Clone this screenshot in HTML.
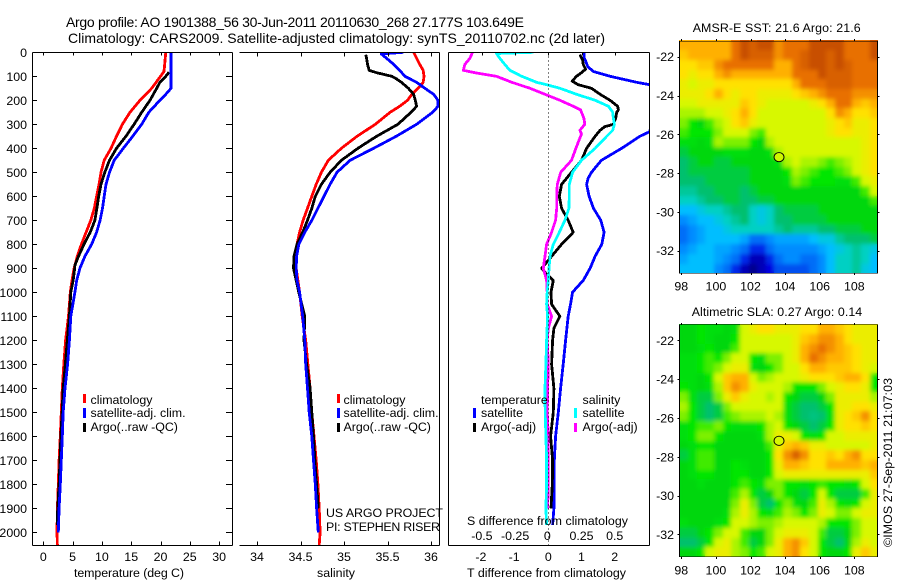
<!DOCTYPE html>
<html>
<head>
<meta charset="utf-8">
<title>Argo profile</title>
<style>
html,body{margin:0;padding:0;background:#fff;}
#chart{display:block;width:900px;height:580px;}
text{font-family:"Liberation Sans",Arial,sans-serif;font-size:12.4px;fill:#000;}
.title{font-size:14px;}
.crisp{shape-rendering:crispEdges;}
polyline{fill:none;stroke-linejoin:round;stroke-linecap:butt;shape-rendering:crispEdges;}
</style>
</head>
<body>
<svg id="chart" xmlns="http://www.w3.org/2000/svg" width="900" height="580" viewBox="0 0 900 580">
  <defs>
    <clipPath id="clip-temp"><rect x="32" y="52" width="201" height="494"/></clipPath>
    <clipPath id="clip-sal"><rect x="239" y="52" width="201" height="494"/></clipPath>
    <clipPath id="clip-diff"><rect x="448" y="52" width="201" height="494"/></clipPath>
    <clipPath id="clip-map-sst"><rect x="679.5" y="41" width="198" height="232"/></clipPath>
    <clipPath id="clip-map-sla"><rect x="679.5" y="325" width="198" height="232"/></clipPath>
    <filter id="map-smooth" x="-5%" y="-5%" width="110%" height="110%"><feGaussianBlur stdDeviation="2"/></filter>
  </defs>
  <rect x="0" y="0" width="900" height="580" fill="#fff"/>

  <g id="map-sst"></g>
  <g id="map-sla"></g>
  <g id="plots"></g>
  <g id="axes"></g>

  <text class="title" x="66" y="27" textLength="458" lengthAdjust="spacing">Argo profile: AO 1901388_56 30-Jun-2011 20110630_268 27.177S 103.649E</text>
  <text class="title" x="68" y="43" textLength="537" lengthAdjust="spacing">Climatology: CARS2009. Satellite-adjusted climatology: synTS_20110702.nc (2d later)</text>

  <text x="74" y="577" textLength="110" lengthAdjust="spacing">temperature (deg C)</text>
  <text x="317" y="577" textLength="38" lengthAdjust="spacing">salinity</text>
  <text x="467" y="577" textLength="159" lengthAdjust="spacing">T difference from climatology</text>
  <text x="467" y="525" textLength="161" lengthAdjust="spacing">S difference from climatology</text>

  <g>
    <rect class="crisp" x="83" y="394" width="3" height="9" fill="#f00"/>
    <rect class="crisp" x="83" y="408" width="3" height="10" fill="#00f"/>
    <rect class="crisp" x="83" y="423" width="3" height="9" fill="#000"/>
    <text x="90.5" y="404">climatology</text>
    <text x="90.5" y="417">satellite-adj. clim.</text>
    <text x="90.5" y="431">Argo(..raw -QC)</text>
  </g>
  <g>
    <rect class="crisp" x="337" y="394" width="3" height="9" fill="#f00"/>
    <rect class="crisp" x="337" y="408" width="3" height="10" fill="#00f"/>
    <rect class="crisp" x="337" y="423" width="3" height="9" fill="#000"/>
    <text x="343.5" y="404">climatology</text>
    <text x="343.5" y="417">satellite-adj. clim.</text>
    <text x="343.5" y="431">Argo(..raw -QC)</text>
  </g>
  <g>
    <text x="481" y="404">temperature</text>
    <rect class="crisp" x="473" y="408" width="3" height="10" fill="#00f"/>
    <rect class="crisp" x="473" y="423" width="3" height="9" fill="#000"/>
    <text x="481" y="417">satellite</text>
    <text x="481" y="431">Argo(-adj)</text>
    <text x="582.5" y="404">salinity</text>
    <rect class="crisp" x="574" y="408" width="3" height="10" fill="#0ff"/>
    <rect class="crisp" x="574" y="423" width="3" height="9" fill="#f0f"/>
    <text x="582.5" y="417">satellite</text>
    <text x="582.5" y="431">Argo(-adj)</text>
  </g>

  <text x="326" y="517" textLength="117" lengthAdjust="spacing">US ARGO PROJECT</text>
  <text x="326" y="531" textLength="114" lengthAdjust="spacing">PI: STEPHEN RISER</text>

  <text x="692.7" y="32" textLength="168" lengthAdjust="spacing">AMSR-E SST: 21.6 Argo: 21.6</text>
  <text x="691.7" y="316" textLength="170.5" lengthAdjust="spacing">Altimetric SLA: 0.27 Argo: 0.14</text>
  <text transform="translate(892,547) rotate(-90)" textLength="169" lengthAdjust="spacing">©IMOS 27-Sep-2011 21:07:03</text>
</svg>

<script>
// ---------- Temperature profiles (deg C) ----------
const climTempDepths = [0,80,100,150,200,250,300,350,400,450,500,550,600,650,700,750,800,850,900,950,1000,1100,1200,1300,1400,1500,1600,1700,1800,1900,2000,2055];
const climTemp = [20.9,20.6,20.0,18.5,16.5,14.8,13.5,12.5,11.55,10.4,9.85,9.5,9.1,8.7,8.1,7.3,6.5,5.8,5.25,4.9,4.6,4.3,3.8,3.5,3.25,3.07,2.9,2.7,2.56,2.4,2.33,2.4];
const argoTempDepths = [83,100,125,150,200,250,300,350,400,450,500,550,600,650,700,750,800,850,890,900,950,1000,1100,1200,1300,1400,1500,1600,1700,1800,1900,1970];
const argoTemp = [21.45,20.9,19.9,19.35,18.2,16.8,15.5,14.1,12.5,11.3,10.5,9.85,9.45,9.15,8.8,8.0,6.95,6.0,5.35,5.35,5.1,4.7,4.45,4.1,3.75,3.4,3.2,3.0,2.85,2.7,2.45,2.4];
const satTempDepths = [0,150,175,200,250,300,350,400,450,500,550,600,650,700,750,800,850,900,950,1000,1100,1200,1300,1400,1500,1600,1700,1800,1900,2000];
const satTemp = [21.8,21.8,20.9,19.9,18.0,16.8,15.25,13.65,12.1,11.3,10.7,10.4,10.1,9.7,9.1,8.25,7.1,6.25,5.7,5.4,4.7,4.45,4.15,3.7,3.4,3.25,3.07,2.9,2.7,2.56];

// ---------- Salinity profiles ----------
const climSalDepths = [0,25,50,75,100,125,150,175,200,225,250,300,350,400,450,500,550,600,650,700,750,800,850,900,950,1000,1100,1200,1300,1400,1500,1600,1700,1800,1900,2000,2055];
const climSal = [35.8,35.835,35.87,35.91,35.92,35.91,35.85,35.78,35.73,35.64,35.53,35.36,35.15,34.97,34.82,34.74,34.68,34.63,34.58,34.53,34.49,34.46,34.45,34.45,34.47,34.49,34.52,34.56,34.585,34.61,34.63,34.655,34.68,34.7,34.715,34.725,34.715];
const argoSalDepths = [10,25,50,75,85,100,110,125,150,175,200,225,250,300,350,400,450,500,550,600,650,700,750,800,850,900,950,1000,1100,1200,1300,1400,1500,1600,1700,1800,1900];
const argoSal = [35.25,35.26,35.27,35.29,35.375,35.55,35.6,35.66,35.74,35.8,35.82,35.835,35.77,35.62,35.375,35.16,34.97,34.84,34.74,34.67,34.63,34.58,34.525,34.46,34.425,34.42,34.45,34.48,34.55,34.54,34.57,34.61,34.63,34.65,34.665,34.685,34.705];
const satSalDepths = [0,7,25,50,75,100,125,150,175,200,225,250,300,350,400,450,500,550,600,650,700,750,800,850,900,950,1000,1100,1200,1300,1400,1500,1600,1700,1800,1900,2000];
const satSal = [35.68,35.43,35.49,35.57,35.64,35.7,35.835,35.93,36.03,36.08,36.08,36.02,35.835,35.6,35.34,35.07,34.92,34.84,34.77,34.7,34.63,34.55,34.48,34.455,34.45,34.46,34.49,34.525,34.55,34.56,34.58,34.6,34.63,34.65,34.67,34.685,34.705];

// ---------- Temperature differences from climatology ----------
const satTDiffDepths = [0,25,40,60,80,100,125,135,150,200,250,331,350,400,450,500,525,550,600,650,700,750,800,850,900,950,1000,1050,1100,1200,1300,1400,1500,1600,1700,1800,1900,1970];
const satTDiff = [1.085,1.085,1.135,1.19,1.36,1.86,2.66,3.05,3.3,3.4,3.2,3.05,2.76,2.21,1.6,1.3,1.2,1.155,1.23,1.36,1.58,1.68,1.61,1.41,1.26,1.055,0.73,0.67,0.6,0.52,0.45,0.37,0.3,0.22,0.18,0.17,0.17,0.13];
const argoTDiffDepths = [10,30,50,70,85,100,120,135,150,175,200,225,240,250,275,300,310,325,350,400,450,500,550,600,650,700,750,800,850,900,925,950,1000,1050,1100,1150,1200,1300,1400,1500,1600,1700,1800,1900];
const argoTDiff = [0.95,1.03,1.05,1.125,1.0,0.85,0.72,0.9,1.3,1.56,1.86,2.09,2.11,2.06,2.03,1.96,1.7,1.56,1.41,1.155,1.0,0.7,0.4,0.33,0.4,0.6,0.75,0.4,0.1,-0.2,-0.05,0.15,0.08,0.1,0.35,0.17,0.13,0.1,0.17,0.15,0.07,0.13,0.12,0.08];

// ---------- Salinity differences from climatology ----------
const satSDiffDepths = [0,5,25,50,75,100,125,135,150,175,200,225,250,275,300,325,350,400,450,500,550,600,650,700,750,800,850,900,950,1000,1050,1100,1200,1300,1400,1500,1600,1700,1800,1900,1970];
const satSDiff = [-0.113,-0.39,-0.365,-0.328,-0.29,-0.2,-0.088,-0.013,0.088,0.213,0.353,0.453,0.485,0.49,0.498,0.485,0.44,0.353,0.25,0.183,0.158,0.158,0.155,0.125,0.083,0.038,0.013,0.005,0,-0.008,-0.013,-0.005,-0.013,-0.018,-0.025,-0.023,-0.018,-0.013,-0.013,-0.018,-0.013];
const argoSDiffDepths = [0,25,50,75,85,100,125,150,175,200,225,240,275,300,325,340,400,450,500,550,600,650,700,750,800,850,900,950,1000,1050,1100,1150,1200,1300,1400,1500,1600,1700,1800,1900];
const argoSDiff = [-0.57,-0.59,-0.628,-0.64,-0.553,-0.39,-0.275,-0.138,-0.025,0.088,0.188,0.243,0.268,0.275,0.238,0.25,0.208,0.175,0.093,0.068,0.063,0.063,0.055,0.025,-0.013,-0.025,-0.038,-0.013,-0.008,-0.008,0.025,0,-0.008,0,-0.005,-0.008,0,0,0,-0.005];

// ---------- Tick labels ----------
const depthTicks = [0,100,200,300,400,500,600,700,800,900,1000,1100,1200,1300,1400,1500,1600,1700,1800,1900,2000];
const tempTicks = [0,5,10,15,20,25,30];
const salTicks = [34,34.5,35,35.5,36];
const tDiffTicks = [-2,-1,0,1,2];
const sDiffTicks = [-0.5,-0.25,0,0.25,0.5];
const lonTicks = [98,100,102,104,106,108];
const latTicks = [22,24,26,28,30,32];

// ---------- Map grids: 0.5 degree cells, colour-scale levels, north to south ----------
const sstLevels = [
[12,12,12,12,12,12,13,14,13.5,14,14,12.5,13,13,13,14,14,14,14,13,13,13,14],
[11.5,12,12,12,12,12,13,14,13.5,13.5,13.5,12.5,13,13,13.5,14,14,13.5,14,13,13,13,14],
[11,11,11.5,11.5,12.5,13,13,13,13,13,13,12,12,13,13.5,14,14,13.5,14,13.5,13,13,13],
[11,10.5,11,11,12,12.5,12,12,12,12,12,12,12,13,13,13,14,13.5,13.5,13.5,13,13,13],
[10.5,10,10.5,10.5,11,11,11,11,11,11,11,11,11,12,13,13,13,13.5,13.5,13.5,13,13,13],
[10.5,10.5,10.5,11,12,11,10.5,11,11,10.5,10.5,10.5,10.5,11,11.5,12,12.5,13,13,13,12.5,12.5,12.5],
[10,10,10.5,10.5,10.5,10.5,10.5,11.5,11,10.5,10,10,10,10,10,10.5,11,12,13,13,12,11.5,12],
[9.5,9.5,9.5,10,10,10.5,11,12,11,10,10,10,10,10,10,10,10,11,12.5,12,11,11,11.5],
[9,8,7,8.5,9.5,10,11,11.5,10.5,10,10,10,10,10,10,10,10,10.5,11,11.5,10.5,10.5,11],
[8.5,8,8,8,9,10,10,10,9,8.5,10,10,10,10,10,10,10,10.5,11,11,10.5,10.5,11],
[7.5,7.5,7,7.5,9.5,9,9,9,8,7,9.5,10,10,10,10,10,10,10,10,10,10,10.5,11],
[6.5,7,7,7,7,7.5,7.5,7.5,7,7,7.5,9.5,10,10,10,10,10,10,10,10,10,10.5,11],
[6,6.5,7,7,6.5,6.5,7,7,7,7,7,7.5,9.5,10,9.5,9.5,9,8.5,9,9.5,10,10.5,11],
[6,6.5,6.5,6.5,6.5,6.5,6.5,6.5,7,7,7,7,8,9.5,9,8.5,8,8,8.5,9,10,10.5,11],
[6,6,6,6.5,6.5,6.5,6.5,6.5,7,7,7,7,7.5,9,8.5,8,8,8,7.5,7.5,8.5,10,10.5],
[5.5,5.5,6,6,6.5,6.5,6.5,6,6.5,7,7,7,7,7,7,7,7,7,7,7,7,8.5,10],
[5,5,5.5,6,6,6.5,6.5,6,6,6.5,6.5,7,7,7,7,7,7,7,7,7,7,7,8.5],
[4,4,4.5,5,5,5.5,6,6,5,4.5,5,6,6.5,6.5,6.5,6.5,7,7,7,7,7,7,7],
[3,3.5,4,4,4.5,5,5.5,6,5,4.5,5,6,6,6.5,6.5,6.5,6.5,7,7,7,7,7,7],
[2.5,3,3.5,4,4,4.5,5,5,5,5,5,5.5,6,5.5,5.5,5.5,6,6,6.5,6.5,6.5,7,7],
[2.5,3,3.5,4,4,4,4,3.5,2.5,2.5,3,3.5,3.5,3.5,3.5,4,4.5,4.5,5.5,6,6,6,6.5],
[3,3.5,4,4,3.5,3.5,3,2.5,1.5,1.5,2.5,3,3,3,3,3,3.5,4,4.5,5,5.5,5,4.5],
[3.5,4,4,4,3.5,3,2.5,1.5,0.5,0.5,1.5,2.5,3,3,2.5,2.5,3,4,5,5,5.5,5,4],
[4,4,4,4,3,2.5,1.5,0.5,0,0.5,1,2,2,2,2,2.5,3,4,5,5,5.5,4.5,4]
];
const slaLevels = [
[7,7,8,7.5,7.5,7,7.5,10,10.5,11,11,10.5,10.5,10.5,11,11,12,12,11.5,11,10.5,10.5,10.5],
[7,7,8,7.5,7,7,8,10,10,10,10,10,10,10.5,11.5,12,12.5,12.5,12,11,10.5,10.5,10.5],
[7,7,7.5,8,7,7,8.5,10,10,10,10,10,10,10.5,12,12.5,13,12.5,12,11.5,11,10.5,10.5],
[7.5,7.5,8,8.5,8,9,10,10,8,7.5,9,9,10,10.5,12,13,12.5,12,12,11.5,11,10.5,10.5],
[7.5,7.5,8,8.5,9,10,10.5,10.5,7.5,7,8,9,10,10,11,12,12,11.5,11.5,11.5,11,10.5,10],
[7.5,7.5,7,8,10,11.5,12,12,10,9,9.5,10,10,10,10.5,11,11,11,11.5,12,12,11,8],
[8,7.5,7,7.5,9.5,11.5,12.5,12,10.5,10,10,10,9.5,8,8,8,9,10,10.5,11,11,10.5,8],
[9,7.5,6.5,6.5,9,10.5,11.5,10.5,10,10,9.5,10,8,7,6.5,6.5,7,9,10.5,10.5,10.5,10.5,9.5],
[9.5,8,6.5,6,6.5,9,10,10,10,10,10,10,7.5,6.5,6,6,6.5,8,10.5,10.5,11,11,10.5],
[9,8,6.5,6,6.5,8.5,9,9.5,9.5,9.5,10,9.5,7.5,6.5,6,5.8,6,7.5,10.5,11,11.5,12.5,11],
[7.5,8,8.5,8.5,9,8,7.5,7.5,7.5,8,9.5,10,8,7,6.5,6,6.5,8,10.5,11,11,11.5,11],
[7.5,8,9,9,8,7,7,7,7,7.5,9.5,10.5,10.5,10,8,7.5,8,10,10,10.5,10.5,10.5,10.5],
[7,7.5,8,8,7,7,7,7,7,7,8.5,10.5,11.5,12,11.5,10.5,10.5,10,10,10,10,10,10.5],
[6.5,7.5,8.5,8.5,7,7,7,7,7,7,8,11,12.5,13.5,12.5,11,11,11.5,11,12,12.5,11,11],
[7,7.5,8.5,8.5,7,7,8,7.5,7,7,8,10.5,12,12,11.5,11,11,12,12,12,12,11.5,12],
[7,7.5,8,8,7,7,8,8,7,7,8,10,10.5,10.5,10.5,10.5,10.5,10.5,10.5,10.5,10.5,10.5,11.5],
[7,7,7.5,7,7,7,8,8.5,8,7.5,9,9,8,8,7.5,8,8.5,8,8,7.5,8,10,11],
[7,7,7,7,7,7,8.5,9.5,8,6.5,7,9,8,7,6.5,8,10,8,6.5,6.5,6.5,8.5,10.5],
[7,7,7,7,7,7,9,10.5,9,6.5,6,8,9,7.5,7,8.5,10.5,9.5,8,7.5,8,10,10.5],
[7,7,7,7,7,7.5,9.5,10.5,9.5,8,7.5,8.5,9.5,9,8,9,10.5,10,9,9,10,10.5,10.5],
[7.5,7,7,7,7.5,8,10,10,9.5,9,9,9.5,10,10,10,10,9.5,8,8,8,9,10,10],
[6.5,6.5,7,8,9,10,10,8.5,7,7,9,10,10.5,10.5,10.5,10,8.5,6.5,6.5,7,9,10,10],
[6,6,6.5,8,10,10.5,9.5,8.5,6.5,7,9,10.5,12,12.5,11.5,10,8,6.5,6,7,9.5,10.5,10],
[7,7,8,10,10.5,10.5,9.5,9,8,8.5,10,10.5,12,12.5,11,10,8,7,7,8,10.5,11.5,10.5]
];
const sstFloatLevel = [9.9];
const slaFloatLevel = [10];
const floatLon = [103.649];
const floatLat = [27.177];

// ---------- Colour scale (level 0..14) ----------
const levelColors = [[0,0,140],[0,0,225],[0,80,240],[0,140,255],[0,190,255],[0,208,195],[0,192,110],[0,215,15],[0,230,0],[125,240,0],[215,248,0],[255,225,0],[255,176,0],[232,112,0],[200,80,0]];

// ---------- Axis functions ----------
const NS = 'http://www.w3.org/2000/svg';
const depthY = d => 52.3 + 0.24 * d;
const tempX = t => 43.3 + 5.86 * t;
const salX = s => 257 + 87 * (s - 34);
const tDiffX = t => 548.3 + 33.2 * t;
const sDiffX = s => 548.3 + 132.8 * s;
const lonX = lon => 681.3 + 17.3 * (lon - 98);
const latY = (lat, top) => top + 16 + 19.4 * (lat - 22);

function make(tag, attrs, parent) {
  const el = document.createElementNS(NS, tag);
  for (const k in attrs) el.setAttribute(k, attrs[k]);
  parent.appendChild(el);
  return el;
}
function levelColor(v) {
  const i = Math.max(0, Math.min(levelColors.length - 2, Math.floor(v)));
  const f = Math.max(0, Math.min(1, v - i));
  const a = levelColors[i], b = levelColors[i + 1];
  return 'rgb(' + [0, 1, 2].map(c => Math.round(a[c] + (b[c] - a[c]) * f)).join(',') + ')';
}

// ---------- Profile series ----------
const plots = document.getElementById('plots');
function series(depths, values, xFn, color, clip, name) {
  const pts = values.map((v, i) => xFn(v).toFixed(1) + ',' + depthY(depths[i]).toFixed(1)).join(' ');
  const el = make('polyline', { points: pts, stroke: color, 'stroke-width': 2.8, 'clip-path': 'url(#' + clip + ')' }, plots);
  
  
}
series(climTempDepths, climTemp, tempX, '#f00', 'clip-temp', 'temperature-climatology-line');
series(argoTempDepths, argoTemp, tempX, '#000', 'clip-temp', 'temperature-argo-line');
series(satTempDepths, satTemp, tempX, '#00f', 'clip-temp', 'temperature-satellite-line');
series(climSalDepths, climSal, salX, '#f00', 'clip-sal', 'salinity-climatology-line');
series(argoSalDepths, argoSal, salX, '#000', 'clip-sal', 'salinity-argo-line');
series(satSalDepths, satSal, salX, '#00f', 'clip-sal', 'salinity-satellite-line');
series(satTDiffDepths, satTDiff, tDiffX, '#00f', 'clip-diff', 'temperature-difference-satellite-line');
series(argoTDiffDepths, argoTDiff, tDiffX, '#000', 'clip-diff', 'temperature-difference-argo-line');
series(argoSDiffDepths, argoSDiff, sDiffX, '#f0f', 'clip-diff', 'salinity-difference-argo-line');
series(satSDiffDepths, satSDiff, sDiffX, '#0ff', 'clip-diff', 'salinity-difference-satellite-line');

// ---------- Axes ----------
const axes = document.getElementById('axes');
function rule(x1, y1, x2, y2, name, extra) {
  const el = make('line', Object.assign({ x1: x1, y1: y1, x2: x2, y2: y2, stroke: '#000', 'stroke-width': 1, class: 'crisp' }, extra || {}), axes);
  
  
}
function label(x, y, str, anchor, name) {
  const el = make('text', { x: x, y: y, 'text-anchor': anchor }, axes);
  el.textContent = str;
  
  
}
const plotTop = 52.5, plotBottom = 545.5;

// temperature panel frame
rule(32.5, plotTop, 232.5, plotTop, 'temperature-top-axis');
rule(32.5, plotBottom, 232.5, plotBottom, 'temperature-bottom-axis');
rule(32.5, plotTop, 32.5, plotBottom, 'depth-axis');
rule(232.5, plotTop, 232.5, plotBottom, 'temperature-right-axis');
depthTicks.forEach(d => {
  const y = Math.round(depthY(d)) + 0.5;
  rule(32.5, y, 37, y, 'depth-tick-left');
  rule(226, y, 232.5, y, 'depth-tick-right');
  label(27, depthY(d) + 4.5, String(d), 'end', 'depth-tick-label');
});
tempTicks.forEach(t => {
  const x = Math.round(tempX(t)) + 0.5;
  rule(x, plotTop, x, plotTop + 3, 'temperature-tick-top');
  rule(x, plotBottom - 4, x, plotBottom, 'temperature-tick-bottom');
  label(tempX(t), 561, String(t), 'middle', 'temperature-tick-label');
});

// salinity panel frame
rule(239.5, plotTop, 439.5, plotTop, 'salinity-top-axis');
rule(239.5, plotBottom, 439.5, plotBottom, 'salinity-bottom-axis');
rule(439.5, plotTop, 439.5, plotBottom, 'salinity-right-axis');
salTicks.forEach(s => {
  const x = Math.round(salX(s)) + 0.5;
  rule(x, plotTop, x, plotTop + 4, 'salinity-tick-top');
  rule(x, plotBottom - 4, x, plotBottom, 'salinity-tick-bottom');
  label(salX(s), 561, String(s), 'middle', 'salinity-tick-label');
});

// difference panel frame
rule(448.5, plotTop, 649.5, plotTop, 'difference-top-axis');
rule(448.5, plotBottom, 649.5, plotBottom, 'difference-bottom-axis');
rule(448.5, plotTop, 448.5, plotBottom, 'difference-left-axis');
rule(649.5, plotTop, 649.5, plotBottom, 'difference-right-axis');
rule(548.5, plotTop, 548.5, plotBottom, 'zero-difference-line', { 'stroke-dasharray': '1 3' });
tDiffTicks.forEach(t => {
  const x = Math.round(tDiffX(t)) + 0.5;
  rule(x, plotTop, x, plotTop + 3, 'difference-tick-top');
  label(tDiffX(t) - (t < 0 ? 1 : 0), 561, String(t), 'middle', 't-difference-tick-label');
});
sDiffTicks.forEach(s => {
  label(sDiffX(s) - (s === 0 ? 1 : 0), 540, String(s), 'middle', 's-difference-tick-label');
});

// ---------- Maps ----------
function drawMap(rows, top, group, floatLevel, clip) {
  const g = document.getElementById(group);
  const cells = make('g', {}, g);
  
  
  const west = 97.885, north = 21.16;
  rows.forEach((row, r) => {
    row.forEach((v, c) => {
      const x0 = Math.round(lonX(west + c * 0.5));
      const x1 = Math.round(lonX(west + (c + 1) * 0.5));
      const y0 = Math.round(latY(north + r * 0.5, top));
      const y1 = Math.round(latY(north + (r + 1) * 0.5, top));
      const cell = make('rect', { x: x0, y: y0, width: x1 - x0, height: y1 - y0, fill: levelColor(v), class: 'crisp' }, cells);
      
      
    });
  });
  // Smoothed copy of the same cells, matching the interpolated look of the source image.
  const smooth = cells.cloneNode(true);
  smooth.setAttribute('filter', 'url(#map-smooth)');
  const smoothClip = make('g', { 'clip-path': 'url(#' + clip + ')' }, g);
  
  
  smoothClip.appendChild(smooth);
  const x0 = 679.5, x1 = 877.5, y0 = top + 0.5, y1 = top + 232.5;
  const frame = make('rect', { x: x0, y: y0, width: x1 - x0, height: y1 - y0, fill: 'none', stroke: '#000', 'stroke-width': 0.6, class: 'crisp' }, g);
  
  
  lonTicks.forEach(lon => {
    const x = Math.round(lonX(lon)) + 0.5;
    rule(x, y0 - 2, x, y0, 'map-longitude-tick-top');
    rule(x, y1, x, y1 + 2, 'map-longitude-tick-bottom');
    label(lonX(lon), top + 250, String(lon), 'middle', 'map-longitude-label');
  });
  latTicks.forEach(lat => {
    const y = Math.round(latY(lat, top)) + 0.5;
    rule(x0 - 2, y, x0, y, 'map-latitude-tick-left');
    rule(x1, y, x1 + 2, y, 'map-latitude-tick-right');
    label(674, latY(lat, top) + 4.5, '-' + lat, 'end', 'map-latitude-label');
  });
  const dot = make('ellipse', { cx: lonX(floatLon[0]), cy: latY(floatLat[0], top), rx: 5, ry: 4.6, fill: levelColor(floatLevel[0]), stroke: '#000', 'stroke-width': 0.9 }, axes);
  
  
}
drawMap(sstLevels, 40.7, 'map-sst', sstFloatLevel, 'clip-map-sst');
drawMap(slaLevels, 324.4, 'map-sla', slaFloatLevel, 'clip-map-sla');
</script>
</body>
</html>
